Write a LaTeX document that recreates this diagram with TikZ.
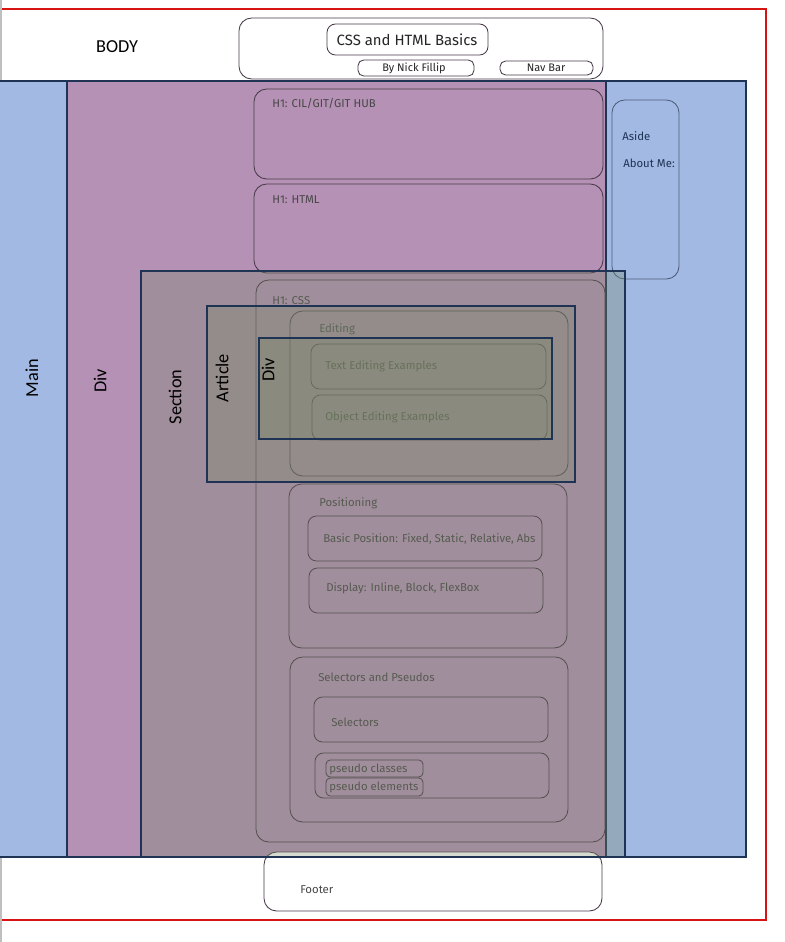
\documentclass[tikz,border=0pt]{standalone}
\usepackage{fontspec}
\newfontfamily\labelfont{Carlito}
\newfontfamily\sketchfont{Fira Sans}
\definecolor{mainblue}{RGB}{162,186,227}
\definecolor{divpurple}{RGB}{181,146,181}
\definecolor{navy}{RGB}{31,51,85}
\definecolor{olivegray}{RGB}{118,136,101}
\definecolor{sketchline}{RGB}{72,58,72}
\definecolor{bodyred}{RGB}{214,20,20}
\tikzset{
  layerbox/.style={draw=navy, line width=1.3pt},
  tintbox/.style={layerbox, fill=olivegray, fill opacity=0.3},
  layerlabel/.style={rotate=90, font=\labelfont\fontsize{13}{15}\selectfont},
  sketchbox/.style={draw=sketchline, rounded corners=6pt, line width=0.6pt},
  sketchtext/.style={anchor=west, inner sep=0pt, text=black!72,
    font=\sketchfont\fontsize{8.1}{10}\selectfont}
}
\begin{document}
\begin{tikzpicture}[x=0.025cm, y=-0.025cm]
  \useasboundingbox (0,0) rectangle (784,942);
  \fill[white] (0,0) rectangle (784,942);

  % Body frame
  \draw[bodyred, line width=1.5pt] (-5,9) rectangle (766,920);
  \draw[black!25, line width=0.8pt] (1,0) -- (1,942);
  \node[font=\labelfont\fontsize{13}{15}\selectfont] (bodylbl) at (117,47) {BODY};

  % Main and outer div
  \fill[mainblue] (-3,81) rectangle (746,857);
  \draw[layerbox] (-3,81) rectangle (746,857);
  \fill[divpurple] (67,81) rectangle (606,857);
  \draw[layerbox] (67,81) rectangle (606,857);
  \node[layerlabel] (mainlbl) at (32,378) {Main};
  \node[layerlabel] (divlbl) at (100,381) {Div};

  % Header
  \draw[sketchbox, fill=white, rounded corners=9pt] (239,18) rectangle (603,79);
  \draw[sketchbox] (327,24) rectangle (488,55);
  \node[font=\sketchfont\fontsize{10.6}{12}\selectfont, text=black!85] (title) at (407,40) {CSS and HTML Basics};
  \draw[sketchbox, rounded corners=4pt] (358,60) rectangle (474,76);
  \node[font=\sketchfont\fontsize{7.8}{9}\selectfont, text=black!85] (author) at (414,68) {By Nick Fillip};
  \draw[sketchbox, rounded corners=4pt] (500,61) rectangle (593,75);
  \node[font=\sketchfont\fontsize{7.8}{9}\selectfont, text=black!85] (navbar) at (546,68) {Nav Bar};

  % H1 blocks
  \draw[sketchbox, rounded corners=9pt] (254,89) rectangle (603,179);
  \node[sketchtext] (gitlbl) at (272,103) {H1: CIL/GIT/GIT HUB};
  \draw[sketchbox, rounded corners=9pt] (254,184) rectangle (603,273);
  \node[sketchtext] (htmllbl) at (272,200) {H1: HTML};
  \draw[sketchbox, rounded corners=9pt] (256,280) rectangle (605,842);
  \node[sketchtext] (csslbl) at (272,301) {H1: CSS};

  % Editing
  \draw[sketchbox, rounded corners=9pt] (290,311) rectangle (568,476);
  \node[sketchtext] (editlbl) at (319,329) {Editing};
  \draw[sketchbox] (311,344) rectangle (546,389);
  \node[sketchtext] (textedit) at (325,366) {Text Editing Examples};
  \draw[sketchbox] (312,395) rectangle (547,440);
  \node[sketchtext] (objedit) at (325,417) {Object Editing Examples};

  % Positioning
  \draw[sketchbox, rounded corners=9pt] (289,484) rectangle (567,648);
  \node[sketchtext] (poslbl) at (319,503) {Positioning};
  \draw[sketchbox] (308,516) rectangle (542,561);
  \begin{scope}
    \clip (308,516) rectangle (542,561);
    \node[sketchtext] (basicpos) at (323,539) {Basic Position: Fixed, Static, Relative, Abs};
  \end{scope}
  \draw[sketchbox] (309,568) rectangle (543,613);
  \node[sketchtext] (display) at (326,588) {Display: Inline, Block, FlexBox};

  % Selectors
  \draw[sketchbox, rounded corners=9pt] (290,657) rectangle (568,822);
  \node[sketchtext] (sellbl) at (318,677) {Selectors and Pseudos};
  \draw[sketchbox] (314,697) rectangle (548,742);
  \node[sketchtext] (selectors) at (331,722) {Selectors};
  \draw[sketchbox] (315,753) rectangle (549,798);
  \draw[sketchbox, rounded corners=3pt] (326,760) rectangle (423,777);
  \node[sketchtext] (pclasses) at (329,769) {pseudo classes};
  \draw[sketchbox, rounded corners=3pt] (326,778) rectangle (423,796);
  \node[sketchtext] (pelements) at (329,787) {pseudo elements};

  % Aside
  \draw[sketchbox, draw=navy!80, rounded corners=9pt] (612,100) rectangle (679,279);
  \node[sketchtext, text=navy] (asidelbl) at (622,136) {Aside};
  \node[sketchtext, text=navy] (aboutlbl) at (623,163) {About Me:};

  % Footer
  \draw[sketchbox, fill=white, rounded corners=9pt] (264,852) rectangle (602,911);
  \node[sketchtext] (footerlbl) at (300,890) {Footer};

  % Section, article and inner div
  \draw[tintbox] (141,271) rectangle (625,857);
  \node[layerlabel] (sectionlbl) at (175,397) {Section};
  \draw[tintbox] (207,306) rectangle (575,482);
  \node[layerlabel] (articlelbl) at (222,378) {Article};
  \draw[tintbox] (259,338) rectangle (552,439);
  \node[layerlabel] (innerdivlbl) at (268,370) {Div};
\end{tikzpicture}
\end{document}
